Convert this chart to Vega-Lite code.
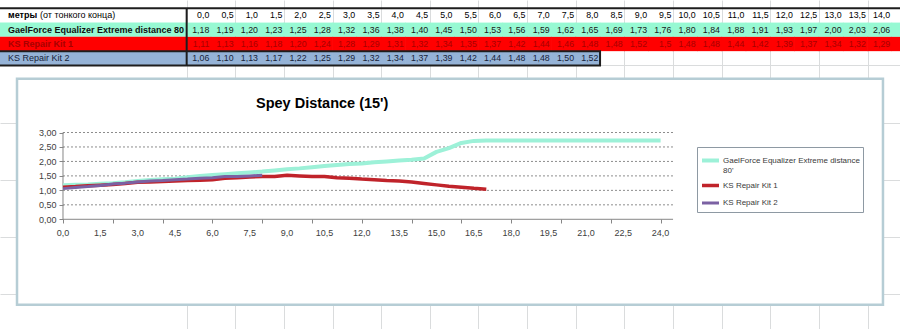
{
  "$schema": "https://vega.github.io/schema/vega-lite/v6.json",
  "width": 900,
  "height": 329,
  "autosize": "none",
  "padding": 0,
  "background": "white",
  "config": {
    "view": {"stroke": null},
    "font": "Liberation Sans",
    "legend": {
      "orient": "none",
      "legendX": 697,
      "legendY": 147,
      "symbolType": "stroke",
      "symbolSize": 289,
      "labelFont": "Liberation Sans",
      "labelFontSize": 8,
      "labelColor": "#3A3A3A",
      "labelLimit": 140,
      "strokeColor": "#8E99A3",
      "fillColor": "white",
      "padding": 3,
      "rowPadding": 0,
      "labelOffset": 2
    }
  },
  "title": {
    "text": "Spey Distance (15')",
    "anchor": "start",
    "frame": "group",
    "dx": 256,
    "dy": 115,
    "fontSize": 14.5,
    "fontWeight": "bold",
    "font": "Liberation Sans",
    "color": "#000000"
  },
  "datasets": {
    "pts": [
      {"s": "GaelForce Equalizer Extreme distance 80'", "m": 0, "v": 1.18},
      {"s": "GaelForce Equalizer Extreme distance 80'", "m": 0.5, "v": 1.19},
      {"s": "GaelForce Equalizer Extreme distance 80'", "m": 1, "v": 1.20},
      {"s": "GaelForce Equalizer Extreme distance 80'", "m": 1.5, "v": 1.23},
      {"s": "GaelForce Equalizer Extreme distance 80'", "m": 2, "v": 1.25},
      {"s": "GaelForce Equalizer Extreme distance 80'", "m": 2.5, "v": 1.28},
      {"s": "GaelForce Equalizer Extreme distance 80'", "m": 3, "v": 1.32},
      {"s": "GaelForce Equalizer Extreme distance 80'", "m": 3.5, "v": 1.36},
      {"s": "GaelForce Equalizer Extreme distance 80'", "m": 4, "v": 1.38},
      {"s": "GaelForce Equalizer Extreme distance 80'", "m": 4.5, "v": 1.40},
      {"s": "GaelForce Equalizer Extreme distance 80'", "m": 5, "v": 1.45},
      {"s": "GaelForce Equalizer Extreme distance 80'", "m": 5.5, "v": 1.50},
      {"s": "GaelForce Equalizer Extreme distance 80'", "m": 6, "v": 1.53},
      {"s": "GaelForce Equalizer Extreme distance 80'", "m": 6.5, "v": 1.56},
      {"s": "GaelForce Equalizer Extreme distance 80'", "m": 7, "v": 1.59},
      {"s": "GaelForce Equalizer Extreme distance 80'", "m": 7.5, "v": 1.62},
      {"s": "GaelForce Equalizer Extreme distance 80'", "m": 8, "v": 1.65},
      {"s": "GaelForce Equalizer Extreme distance 80'", "m": 8.5, "v": 1.69},
      {"s": "GaelForce Equalizer Extreme distance 80'", "m": 9, "v": 1.73},
      {"s": "GaelForce Equalizer Extreme distance 80'", "m": 9.5, "v": 1.76},
      {"s": "GaelForce Equalizer Extreme distance 80'", "m": 10, "v": 1.80},
      {"s": "GaelForce Equalizer Extreme distance 80'", "m": 10.5, "v": 1.84},
      {"s": "GaelForce Equalizer Extreme distance 80'", "m": 11, "v": 1.88},
      {"s": "GaelForce Equalizer Extreme distance 80'", "m": 11.5, "v": 1.91},
      {"s": "GaelForce Equalizer Extreme distance 80'", "m": 12, "v": 1.93},
      {"s": "GaelForce Equalizer Extreme distance 80'", "m": 12.5, "v": 1.97},
      {"s": "GaelForce Equalizer Extreme distance 80'", "m": 13, "v": 2.00},
      {"s": "GaelForce Equalizer Extreme distance 80'", "m": 13.5, "v": 2.03},
      {"s": "GaelForce Equalizer Extreme distance 80'", "m": 14, "v": 2.06},
      {"s": "GaelForce Equalizer Extreme distance 80'", "m": 14.5, "v": 2.10},
      {"s": "GaelForce Equalizer Extreme distance 80'", "m": 15, "v": 2.33},
      {"s": "GaelForce Equalizer Extreme distance 80'", "m": 15.5, "v": 2.46},
      {"s": "GaelForce Equalizer Extreme distance 80'", "m": 16, "v": 2.64},
      {"s": "GaelForce Equalizer Extreme distance 80'", "m": 16.5, "v": 2.71},
      {"s": "GaelForce Equalizer Extreme distance 80'", "m": 17, "v": 2.72},
      {"s": "GaelForce Equalizer Extreme distance 80'", "m": 17.5, "v": 2.72},
      {"s": "GaelForce Equalizer Extreme distance 80'", "m": 18, "v": 2.72},
      {"s": "GaelForce Equalizer Extreme distance 80'", "m": 18.5, "v": 2.72},
      {"s": "GaelForce Equalizer Extreme distance 80'", "m": 19, "v": 2.72},
      {"s": "GaelForce Equalizer Extreme distance 80'", "m": 19.5, "v": 2.72},
      {"s": "GaelForce Equalizer Extreme distance 80'", "m": 20, "v": 2.72},
      {"s": "GaelForce Equalizer Extreme distance 80'", "m": 20.5, "v": 2.72},
      {"s": "GaelForce Equalizer Extreme distance 80'", "m": 21, "v": 2.72},
      {"s": "GaelForce Equalizer Extreme distance 80'", "m": 21.5, "v": 2.72},
      {"s": "GaelForce Equalizer Extreme distance 80'", "m": 22, "v": 2.72},
      {"s": "GaelForce Equalizer Extreme distance 80'", "m": 22.5, "v": 2.72},
      {"s": "GaelForce Equalizer Extreme distance 80'", "m": 23, "v": 2.72},
      {"s": "GaelForce Equalizer Extreme distance 80'", "m": 23.5, "v": 2.72},
      {"s": "GaelForce Equalizer Extreme distance 80'", "m": 24, "v": 2.72},
      {"s": "KS Repair Kit 1", "m": 0, "v": 1.11},
      {"s": "KS Repair Kit 1", "m": 0.5, "v": 1.13},
      {"s": "KS Repair Kit 1", "m": 1, "v": 1.16},
      {"s": "KS Repair Kit 1", "m": 1.5, "v": 1.18},
      {"s": "KS Repair Kit 1", "m": 2, "v": 1.20},
      {"s": "KS Repair Kit 1", "m": 2.5, "v": 1.24},
      {"s": "KS Repair Kit 1", "m": 3, "v": 1.28},
      {"s": "KS Repair Kit 1", "m": 3.5, "v": 1.29},
      {"s": "KS Repair Kit 1", "m": 4, "v": 1.31},
      {"s": "KS Repair Kit 1", "m": 4.5, "v": 1.32},
      {"s": "KS Repair Kit 1", "m": 5, "v": 1.34},
      {"s": "KS Repair Kit 1", "m": 5.5, "v": 1.35},
      {"s": "KS Repair Kit 1", "m": 6, "v": 1.37},
      {"s": "KS Repair Kit 1", "m": 6.5, "v": 1.42},
      {"s": "KS Repair Kit 1", "m": 7, "v": 1.44},
      {"s": "KS Repair Kit 1", "m": 7.5, "v": 1.46},
      {"s": "KS Repair Kit 1", "m": 8, "v": 1.48},
      {"s": "KS Repair Kit 1", "m": 8.5, "v": 1.48},
      {"s": "KS Repair Kit 1", "m": 9, "v": 1.52},
      {"s": "KS Repair Kit 1", "m": 9.5, "v": 1.5},
      {"s": "KS Repair Kit 1", "m": 10, "v": 1.48},
      {"s": "KS Repair Kit 1", "m": 10.5, "v": 1.48},
      {"s": "KS Repair Kit 1", "m": 11, "v": 1.44},
      {"s": "KS Repair Kit 1", "m": 11.5, "v": 1.42},
      {"s": "KS Repair Kit 1", "m": 12, "v": 1.39},
      {"s": "KS Repair Kit 1", "m": 12.5, "v": 1.37},
      {"s": "KS Repair Kit 1", "m": 13, "v": 1.34},
      {"s": "KS Repair Kit 1", "m": 13.5, "v": 1.32},
      {"s": "KS Repair Kit 1", "m": 14, "v": 1.29},
      {"s": "KS Repair Kit 1", "m": 14.5, "v": 1.24},
      {"s": "KS Repair Kit 1", "m": 15, "v": 1.19},
      {"s": "KS Repair Kit 1", "m": 15.5, "v": 1.14},
      {"s": "KS Repair Kit 1", "m": 16, "v": 1.11},
      {"s": "KS Repair Kit 1", "m": 16.5, "v": 1.07},
      {"s": "KS Repair Kit 1", "m": 17, "v": 1.04},
      {"s": "KS Repair Kit 2", "m": 0, "v": 1.06},
      {"s": "KS Repair Kit 2", "m": 0.5, "v": 1.10},
      {"s": "KS Repair Kit 2", "m": 1, "v": 1.13},
      {"s": "KS Repair Kit 2", "m": 1.5, "v": 1.17},
      {"s": "KS Repair Kit 2", "m": 2, "v": 1.22},
      {"s": "KS Repair Kit 2", "m": 2.5, "v": 1.25},
      {"s": "KS Repair Kit 2", "m": 3, "v": 1.29},
      {"s": "KS Repair Kit 2", "m": 3.5, "v": 1.32},
      {"s": "KS Repair Kit 2", "m": 4, "v": 1.34},
      {"s": "KS Repair Kit 2", "m": 4.5, "v": 1.37},
      {"s": "KS Repair Kit 2", "m": 5, "v": 1.39},
      {"s": "KS Repair Kit 2", "m": 5.5, "v": 1.42},
      {"s": "KS Repair Kit 2", "m": 6, "v": 1.44},
      {"s": "KS Repair Kit 2", "m": 6.5, "v": 1.48},
      {"s": "KS Repair Kit 2", "m": 7, "v": 1.48},
      {"s": "KS Repair Kit 2", "m": 7.5, "v": 1.50},
      {"s": "KS Repair Kit 2", "m": 8, "v": 1.52}
    ]
  },
  "resolve": {"scale": {"x": "independent", "y": "independent"}},
  "layer": [
    {
      "data": {"name": "pts"},
      "transform": [
        {"calculate": "datum.s == 'KS Repair Kit 1' ? 2 : datum.s == 'KS Repair Kit 2' ? 3 : 1", "as": "r"},
        {"calculate": "datum.r - 0.5", "as": "r0"},
        {"calculate": "datum.r + 0.5", "as": "r1"}
      ],
      "layer": [
        {
          "transform": [{"filter": "datum.m <= 14.5"}],
          "mark": {"type": "bar", "orient": "vertical", "width": 25},
          "encoding": {
            "x": {
              "field": "m", "type": "quantitative",
              "scale": {"domain": [-3.9854, 14.3148], "nice": false, "zero": false},
              "axis": {"orient": "top", "values": [-0.25, 0.25, 0.75, 1.25, 1.75, 2.25, 2.75, 3.25, 3.75, 4.25, 4.75, 5.25, 5.75, 6.25, 6.75, 7.25, 7.75, 8.25, 8.75, 9.25, 9.75, 10.25, 10.75, 11.25, 11.75, 12.25, 12.75, 13.25, 13.75, 14.25], "grid": true, "gridColor": "#DADCDD", "labels": false, "ticks": false, "domain": false, "title": null, "zindex": 0}
            },
            "y": {
              "field": "r0", "type": "quantitative",
              "scale": {"domain": [-1.0819, 21.957], "nice": false, "zero": false, "reverse": true},
              "axis": {"orient": "right", "values": [-0.5, 0.5, 1.5, 2.5, 3.5, 4.5, 5.5, 6.5, 7.5, 8.5, 9.5, 10.5, 11.5, 12.5, 13.5, 14.5, 15.5, 16.5, 17.5, 18.5, 19.5, 20.5, 21.5], "grid": true, "gridColor": "#DADCDD", "labels": false, "ticks": false, "domain": false, "title": null, "zindex": 0}
            },
            "y2": {"field": "r1"},
            "fill": {"condition": [{"test": "datum.r == 1", "value": "#97F9D3"}, {"test": "datum.r == 2", "value": "#FF0000"}], "value": "#95B3D7"}
          }
        },
        {
          "transform": [{"aggregate": [{"op": "count", "as": "n"}], "groupby": ["s", "r", "r0", "r1"]}],
          "mark": {"type": "rect"},
          "encoding": {
            "x": {"datum": -5},
            "x2": {"datum": -0.25},
            "y": {"field": "r0", "type": "quantitative"},
            "y2": {"field": "r1"},
            "fill": {"condition": [{"test": "datum.r == 1", "value": "#97F9D3"}, {"test": "datum.r == 2", "value": "#FF0000"}], "value": "#95B3D7"}
          }
        },
        {
          "transform": [
            {"filter": "datum.m <= 14"},
            {"calculate": "datum.s == 'KS Repair Kit 1' && datum.m == 9.5 ? '1,5' : replace(format(datum.v, '.2f'), '.', ',')", "as": "t"}
          ],
          "mark": {"type": "text", "align": "right", "baseline": "middle", "dx": 10.5, "fontSize": 8.8},
          "encoding": {
            "x": {"field": "m", "type": "quantitative"},
            "y": {"field": "r", "type": "quantitative"},
            "text": {"field": "t"},
            "color": {"condition": [{"test": "datum.r == 2", "value": "#A80000"}, {"test": "datum.r == 3", "value": "#17233A"}], "value": "#1A1A1A"}
          }
        },
        {
          "transform": [
            {"filter": "datum.r == 1 && datum.m <= 14"},
            {"calculate": "replace(format(datum.m, '.1f'), '.', ',')", "as": "t"}
          ],
          "mark": {"type": "text", "align": "right", "baseline": "middle", "dx": 10.5, "fontSize": 8.8, "color": "#000000"},
          "encoding": {
            "x": {"field": "m", "type": "quantitative"},
            "y": {"datum": 0},
            "text": {"field": "t"}
          }
        },
        {
          "transform": [{"aggregate": [{"op": "count", "as": "n"}], "groupby": ["s", "r"]}, {"filter": "datum.r <= 2"}],
          "mark": {"type": "text", "align": "left", "baseline": "middle", "fontSize": 9, "fontWeight": "bold", "limit": 178, "ellipsis": "\u200b"},
          "encoding": {
            "x": {"datum": -3.924},
            "y": {"field": "r", "type": "quantitative"},
            "text": {"field": "s"},
            "color": {"condition": {"test": "datum.r == 2", "value": "#A80000"}, "value": "#111111"}
          }
        },
        {
          "transform": [{"aggregate": [{"op": "count", "as": "n"}], "groupby": ["s", "r"]}, {"filter": "datum.r == 3"}],
          "mark": {"type": "text", "align": "left", "baseline": "middle", "fontSize": 9, "color": "#17233A"},
          "encoding": {
            "x": {"datum": -3.924},
            "y": {"field": "r", "type": "quantitative"},
            "text": {"field": "s"}
          }
        },
        {
          "data": {"values": [{}]},
          "mark": {"type": "text", "align": "left", "baseline": "middle", "fontSize": 9, "fontWeight": "bold", "color": "#000000", "text": "метры"},
          "encoding": {"x": {"datum": -3.924}, "y": {"datum": 0}}
        },
        {
          "data": {"values": [{}]},
          "mark": {"type": "text", "align": "left", "baseline": "middle", "fontSize": 9, "color": "#000000", "dx": 32, "text": "(от тонкого конца)"},
          "encoding": {"x": {"datum": -3.924}, "y": {"datum": 0}}
        },
        {
          "data": {"values": [{}]},
          "mark": {"type": "rule", "color": "#1E1E1E", "strokeWidth": 2},
          "encoding": {"y": {"datum": -0.5}}
        },
        {
          "data": {"values": [{}]},
          "mark": {"type": "rule", "color": "#1E1E1E", "strokeWidth": 2},
          "encoding": {"x": {"datum": -0.25}, "y": {"datum": -0.5}, "y2": {"datum": 3.5}}
        },
        {
          "data": {"values": [{}]},
          "mark": {"type": "rect", "fill": null, "fillOpacity": 0, "stroke": "#1E1E1E", "strokeWidth": 2},
          "encoding": {"x": {"datum": -5}, "x2": {"datum": 8.25}, "y": {"datum": 2.5}, "y2": {"datum": 3.5}}
        }
      ]
    },
    {
      "data": {"name": "pts"},
      "layer": [
        {
          "data": {"values": [{}]},
          "mark": {"type": "rect", "fill": "white", "stroke": "#B6CDD5", "strokeWidth": 2.5},
          "encoding": {"x": {"datum": -1.847}, "x2": {"datum": 32.93}, "y": {"datum": 4.86}, "y2": {"datum": -2.955}}
        },
        {
          "data": {"values": [{"v": 0.5}, {"v": 1}, {"v": 1.5}, {"v": 2}, {"v": 2.5}, {"v": 3}]},
          "mark": {"type": "rule", "color": "#8C8C8C", "strokeDash": [2, 2], "strokeWidth": 1},
          "encoding": {"x": {"datum": 0}, "x2": {"datum": 24.5}, "y": {"field": "v", "type": "quantitative"}}
        },
        {
          "data": {"values": [{}]},
          "mark": {"type": "rule", "color": "#868686", "strokeWidth": 1},
          "encoding": {"x": {"datum": 0}, "x2": {"datum": 24.5}, "y": {"datum": 0}}
        },
        {
          "data": {"values": [{}]},
          "mark": {"type": "rule", "color": "#868686", "strokeWidth": 1},
          "encoding": {"x": {"datum": 0}, "y": {"datum": 0}, "y2": {"datum": 3}}
        },
        {
          "transform": [
            {"filter": "datum.s == 'KS Repair Kit 1' || datum.s == 'KS Repair Kit 2' ? false : datum.m % 1.5 == 0"},
            {"calculate": "replace(format(datum.m, '.1f'), '.', ',')", "as": "t"}
          ],
          "mark": {"type": "text", "align": "center", "baseline": "middle", "dy": 13.5, "fontSize": 9, "color": "#404040"},
          "encoding": {"x": {"field": "m", "type": "quantitative"}, "y": {"datum": 0}, "text": {"field": "t"}}
        },
        {
          "mark": {"type": "line", "strokeJoin": "round"},
          "encoding": {
            "x": {
              "field": "m", "type": "quantitative",
              "scale": {"domain": [-2.530, 33.614], "nice": false, "zero": false},
              "axis": {"orient": "bottom", "offset": -110, "values": [0, 0.5, 1, 1.5, 2, 2.5, 3, 3.5, 4, 4.5, 5, 5.5, 6, 6.5, 7, 7.5, 8, 8.5, 9, 9.5, 10, 10.5, 11, 11.5, 12, 12.5, 13, 13.5, 14, 14.5, 15, 15.5, 16, 16.5, 17, 17.5, 18, 18.5, 19, 19.5, 20, 20.5, 21, 21.5, 22, 22.5, 23, 23.5, 24, 24.5], "labels": false, "domain": false, "grid": false, "tickSize": 4, "tickColor": "#868686", "title": null, "zindex": 1}
            },
            "y": {
              "field": "v", "type": "quantitative",
              "scale": {"domain": [-3.792, 7.580], "nice": false, "zero": false},
              "axis": {"orient": "left", "offset": -63, "values": [0, 0.5, 1, 1.5, 2, 2.5, 3], "labelExpr": "replace(format(datum.value, '.2f'), '.', ',')", "domain": false, "grid": false, "tickSize": 4, "tickColor": "#868686", "labelFont": "Liberation Sans", "labelFontSize": 9, "labelColor": "#404040", "labelPadding": 3, "labelOverlap": false, "labelFlush": false, "labelBound": false, "title": null, "zindex": 1}
            },
            "color": {
              "field": "s", "type": "nominal",
              "scale": {"domain": ["GaelForce Equalizer Extreme distance 80'", "KS Repair Kit 1", "KS Repair Kit 2"], "range": ["#9DF1D8", "#C0232A", "#7B61A3"]},
              "legend": {"title": null, "labelExpr": "length(datum.label) > 30 ? [substring(datum.label, 0, 36), substring(datum.label, 37)] : datum.label"}
            },
            "strokeWidth": {
              "field": "s", "type": "ordinal",
              "scale": {"domain": ["GaelForce Equalizer Extreme distance 80'", "KS Repair Kit 1", "KS Repair Kit 2"], "range": [4, 3, 2.5]},
              "legend": {"title": null, "labelExpr": "length(datum.label) > 30 ? [substring(datum.label, 0, 36), substring(datum.label, 37)] : datum.label"}
            }
          }
        }
      ]
    }
  ]
}
